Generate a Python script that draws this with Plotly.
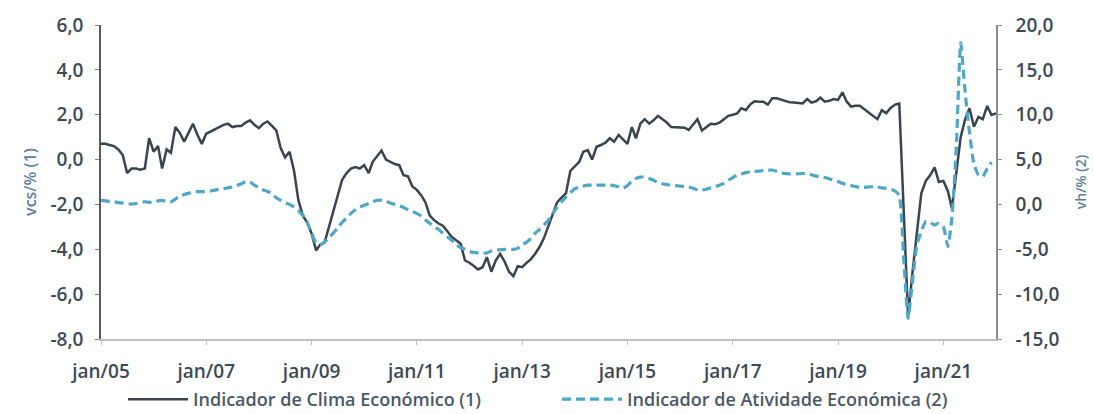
import pandas as pd
import plotly.graph_objects as go

# Monthly data, jan/05 onward
clima = [
    0.70, 0.70, 0.65, 0.60, 0.45, 0.20, -0.60, -0.40, -0.40, -0.45, -0.40, 0.95,   # 2005
    0.35, 0.60, -0.40, 0.45, 0.30, 1.45, 1.20, 0.80, 1.20, 1.60, 1.10, 0.70,       # 2006
    1.15, 1.25, 1.35, 1.45, 1.55, 1.60, 1.45, 1.50, 1.50, 1.65, 1.75, 1.55,        # 2007
    1.40, 1.60, 1.70, 1.50, 1.30, 0.50, 0.10, 0.35, -0.50, -1.80, -2.50, -2.80,    # 2008
    -3.30, -4.05, -3.80, -3.70, -3.00, -2.40, -1.60, -0.90, -0.60, -0.40, -0.33, -0.40,  # 2009
    -0.25, -0.60, -0.10, 0.15, 0.40, 0.00, -0.10, -0.20, -0.25, -0.70, -0.75, -1.20,     # 2010
    -1.35, -1.60, -1.90, -2.50, -2.70, -2.85, -2.95, -3.20, -3.45, -3.60, -3.75, -4.50,  # 2011
    -4.60, -4.75, -4.90, -4.80, -4.35, -5.00, -4.50, -4.20, -4.55, -5.00, -5.20, -4.75,  # 2012
    -4.80, -4.60, -4.45, -4.20, -3.90, -3.50, -3.00, -2.50, -1.90, -1.70, -1.50, -0.50,  # 2013
    -0.30, -0.10, 0.35, 0.42, 0.00, 0.57, 0.65, 0.75, 0.95, 0.80, 1.10, 0.90,      # 2014
    0.70, 1.45, 0.95, 1.60, 1.80, 1.60, 1.75, 1.95, 1.80, 1.65, 1.45, 1.44,        # 2015
    1.44, 1.42, 1.32, 1.55, 1.80, 1.30, 1.45, 1.60, 1.58, 1.65, 1.80, 1.95,        # 2016
    2.00, 2.06, 2.29, 2.20, 2.45, 2.60, 2.58, 2.58, 2.45, 2.73, 2.73, 2.66,        # 2017
    2.60, 2.55, 2.54, 2.52, 2.50, 2.70, 2.54, 2.60, 2.76, 2.58, 2.62, 2.70,        # 2018
    2.66, 3.00, 2.60, 2.36, 2.40, 2.40, 2.25, 2.09, 1.95, 1.80, 2.20, 2.06,        # 2019
    2.30, 2.45, 2.50, -2.70, -7.00, -5.00, -3.40, -1.50, -0.95, -0.70, -0.35, -1.00,  # 2020
    -0.95, -1.40, -2.18, -0.50, 1.00, 1.80, 2.29, 1.46, 1.90, 1.80, 2.39, 1.99,    # 2021
    2.06,                                                                          # 2022
]

atividade = [
    0.45, 0.40, 0.35, 0.30, 0.20, 0.15, 0.10, 0.04, 0.10, 0.20, 0.30, 0.25,        # 2005
    0.20, 0.40, 0.45, 0.35, 0.30, 0.60, 0.95, 1.10, 1.25, 1.40, 1.42, 1.42,        # 2006
    1.42, 1.50, 1.60, 1.68, 1.75, 1.85, 1.95, 2.10, 2.30, 2.55, 2.50, 2.15,        # 2007
    1.90, 1.60, 1.45, 1.20, 0.75, 0.45, 0.20, 0.00, -0.30, -0.70, -1.20, -2.00,    # 2008
    -3.20, -4.30, -4.50, -4.20, -3.70, -3.20, -2.60, -2.00, -1.50, -1.00, -0.60, -0.30,  # 2009
    -0.10, 0.10, 0.30, 0.45, 0.45, 0.35, 0.15, 0.00, -0.15, -0.35, -0.60, -0.80,   # 2010
    -1.00, -1.30, -1.70, -2.10, -2.50, -2.80, -3.20, -3.60, -4.00, -4.50, -4.80, -5.00,  # 2011
    -5.25, -5.35, -5.40, -5.45, -5.40, -5.20, -5.10, -5.05, -5.00, -5.00, -5.00, -4.90,  # 2012
    -4.50, -4.20, -3.80, -3.20, -2.80, -2.30, -1.80, -1.00, -0.30, 0.30, 0.85, 1.30,     # 2013
    1.75, 1.95, 2.05, 2.15, 2.16, 2.16, 2.16, 2.16, 2.16, 2.10, 1.95, 1.80,        # 2014
    2.10, 2.60, 2.90, 3.05, 3.05, 2.90, 2.70, 2.45, 2.30, 2.20, 2.15, 2.10,        # 2015
    2.05, 2.00, 1.95, 1.80, 1.65, 1.60, 1.70, 1.85, 1.97, 2.15, 2.35, 2.70,        # 2016
    3.00, 3.28, 3.40, 3.55, 3.65, 3.68, 3.72, 3.78, 3.80, 3.84, 3.70, 3.50,        # 2017
    3.45, 3.40, 3.40, 3.42, 3.45, 3.45, 3.30, 3.15, 3.10, 3.00, 2.85, 2.72,        # 2018
    2.55, 2.35, 2.20, 2.10, 2.00, 1.90, 1.90, 1.95, 1.97, 1.95, 1.85, 1.79,        # 2019
    1.70, 1.50, 1.00, -6.00, -12.70, -8.50, -4.50, -3.00, -1.90, -2.00, -2.30, -2.10,  # 2020
    -2.50, -4.70, -1.50, 6.50, 18.00, 12.50, 8.00, 4.50, 3.30, 3.10, 4.00, 4.70,   # 2021
]

start_month = "2005-01-01"
x_tick_labels = ["jan/05", "jan/07", "jan/09", "jan/11", "jan/13", "jan/15", "jan/17", "jan/19", "jan/21"]
x_tick_dates = ["2005-01-01", "2007-01-01", "2009-01-01", "2011-01-01", "2013-01-01",
                "2015-01-01", "2017-01-01", "2019-01-01", "2021-01-01"]
y1_tick_vals = [-8, -6, -4, -2, 0, 2, 4, 6]
y1_tick_text = ["-8,0", "-6,0", "-4,0", "-2,0", "0,0", "2,0", "4,0", "6,0"]
y2_tick_vals = [-15, -10, -5, 0, 5, 10, 15, 20]
y2_tick_text = ["-15,0", "-10,0", "-5,0", "0,0", "5,0", "10,0", "15,0", "20,0"]

dates_c = pd.date_range(start_month, periods=len(clima), freq="MS")
dates_a = pd.date_range(start_month, periods=len(atividade), freq="MS")

FONT = "Open Sans"
TXT = "#3d4957"
AXT = "#5a7fa0"
TICKFONT = dict(family=FONT, size=19, color=TXT, weight=600)

fig = go.Figure()
fig.add_trace(go.Scatter(
    x=dates_c, y=clima, name="Indicador de Clima Económico (1)",
    mode="lines", line=dict(color="#3a4450", width=2.5), yaxis="y",
))
fig.add_trace(go.Scatter(
    x=dates_a, y=atividade, name="Indicador de Atividade Económica (2)",
    mode="lines", line=dict(color="#4ea7c7", width=3.2, dash="9px,5px", shape="spline", smoothing=0.5),
    yaxis="y2",
))

fig.update_layout(
    width=1094, height=414,
    margin=dict(l=101, r=98, t=25, b=75),
    paper_bgcolor="white", plot_bgcolor="white",
    font=dict(family=FONT, size=16, color=TXT),
    showlegend=True,
    legend=dict(
        orientation="h", xref="paper", x=0.0246, xanchor="left",
        yref="container", y=0.035, yanchor="middle",
        itemwidth=60,
        entrywidth=359, entrywidthmode="pixels",
        font=dict(family=FONT, size=18, color="#4a5868", weight=600),
        bgcolor="rgba(0,0,0,0)",
    ),
    xaxis=dict(
        type="date", range=["2005-01-01", "2022-01-01"], automargin=False,
        tickvals=x_tick_dates, ticktext=x_tick_labels,
        showgrid=False, zeroline=False,
        showline=True, linecolor="#bfbfbf", linewidth=1.5,
        ticks="outside", ticklen=4, tickcolor="#bfbfbf",
        tickfont=TICKFONT,
        ticklabelstandoff=10,
    ),
    yaxis=dict(
        range=[-8, 6], tickvals=y1_tick_vals, ticktext=y1_tick_text, automargin=False,
        showgrid=False, zeroline=False,
        showline=True, linecolor="#5a5a5a", linewidth=1.5,
        ticks="outside", ticklen=4, tickcolor="#7f7f7f",
        tickfont=TICKFONT,
        ticklabelstandoff=8,
        title=dict(text="vcs/% (1)", font=dict(family=FONT, size=16, color=AXT, weight=600), standoff=10),
    ),
    yaxis2=dict(
        range=[-15, 20], tickvals=y2_tick_vals, ticktext=y2_tick_text, automargin=False,
        overlaying="y", side="right", anchor="x",
        showgrid=False, zeroline=False,
        showline=True, linecolor="#8c8c8c", linewidth=1.5,
        ticks="outside", ticklen=4, tickcolor="#8c8c8c",
        tickfont=TICKFONT,
        ticklabelstandoff=10,
        title=dict(text="vh/% (2)", font=dict(family=FONT, size=14, color=AXT, weight=600), standoff=18),
    ),
)

fig.write_html("out.html", config={"displayModeBar": False},
               post_script="document.body.style.margin='0px';")
